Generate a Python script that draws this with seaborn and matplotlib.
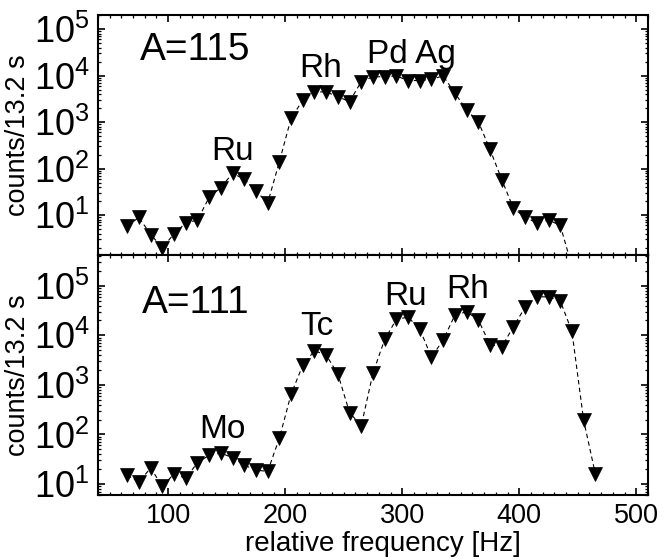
import matplotlib
matplotlib.use('Agg')
import matplotlib.pyplot as plt
import seaborn as sns
import pandas as pd
from matplotlib.ticker import LogLocator, MultipleLocator, NullFormatter, LogFormatterSciNotation

# A=115 scan
freq_115 = [65, 75, 85, 95, 105, 115, 125, 135, 145, 155, 165, 175, 185, 195,
            205, 215, 225, 235, 245, 255, 265, 275, 285, 295, 305, 315, 325, 335,
            345, 355, 365, 375, 385, 395, 405, 415, 425, 435, 445]
counts_115 = [5.8, 8.9, 3.8, 2.0, 3.9, 6.8, 7.8, 24, 39, 79, 59, 33, 18, 140,
              1200, 2960, 4450, 4450, 3500, 2750, 7400, 9400, 9400, 9800, 7800, 7800, 8300, 9800,
              4170, 1820, 1020, 257, 58, 14, 8.9, 6.8, 7.8, 6.0, 0.8]

# A=111 scan
freq_111 = [65, 75, 85, 95, 105, 115, 125, 135, 145, 155, 165, 175, 185, 195,
            205, 215, 225, 235, 245, 255, 265, 275, 285, 295, 305, 315, 325, 335,
            345, 355, 365, 375, 385, 395, 405, 415, 425, 435, 445, 455, 465]
counts_111 = [15, 11, 21, 9, 16, 13, 27, 38, 42, 34, 24, 19, 18, 84,
              650, 2500, 4900, 4000, 1660, 275, 150, 1740, 8300, 21000, 23400, 13300, 3640, 8100,
              25700, 30000, 20500, 6500, 5900, 15000, 37000, 60000, 60000, 50000, 12000, 195, 16]

# peak labels: (text, x, y baseline)
labels_115 = [('Ru', 155, 152), ('Rh', 230, 9300), ('Pd Ag', 308, 18600)]
labels_111 = [('Mo', 146, 84), ('Tc', 227, 10200), ('Ru', 303, 41500), ('Rh', 356, 56000)]

sns.set_style('ticks')
plt.rcParams['font.family'] = ['Liberation Sans', 'DejaVu Sans']
plt.rcParams['text.color'] = 'black'
plt.rcParams['axes.labelcolor'] = 'black'
plt.rcParams['xtick.color'] = 'black'
plt.rcParams['ytick.color'] = 'black'
plt.rcParams['axes.edgecolor'] = 'black'

fig = plt.figure(figsize=(6.67, 5.6), dpi=100)
ax1 = fig.add_axes([0.1469, 0.5446, 0.8246, 0.4286])
ax2 = fig.add_axes([0.1469, 0.1161, 0.8246, 0.4286])

panels = [
    (ax1, freq_115, counts_115, labels_115, 'A=115', (1.38, 2e5), 0.8125),
    (ax2, freq_111, counts_111, labels_111, 'A=111', (6, 4.2e5), 0.758),
]

for ax, fx, cy, labs, title, ylim, ty in panels:
    ax.set_yscale('log')
    df = pd.DataFrame({'freq': fx, 'counts': cy})
    sns.lineplot(data=df, x='freq', y='counts', ax=ax, color='black',
                 marker='v', markersize=9.5, markeredgecolor='black',
                 markeredgewidth=0.5, linestyle=(0, (4, 3)), linewidth=0.8)
    ax.set_xlim(40, 510)
    ax.set_ylim(*ylim)
    ax.xaxis.set_major_locator(MultipleLocator(100))
    ax.xaxis.set_minor_locator(MultipleLocator(10))
    ax.yaxis.set_major_locator(LogLocator(base=10, numticks=10))
    ax.yaxis.set_minor_locator(LogLocator(base=10, subs=range(2, 10), numticks=20))
    ax.yaxis.set_minor_formatter(NullFormatter())
    ax.yaxis.set_major_formatter(LogFormatterSciNotation())
    ax.tick_params(which='both', direction='in', top=True, right=True, color='black')
    ax.tick_params(which='major', length=5, width=1.2, labelsize=19.5, pad=5)
    ax.tick_params(which='minor', length=2.5, width=0.9)
    # y tick labels are tall and narrow in the original
    ax.tick_params(axis='y', labelsize=26, pad=6,
                   labelfontfamily=['Liberation Sans Narrow', 'Liberation Sans'])
    for s in ax.spines.values():
        s.set_linewidth(1.5)
        s.set_color('black')
    ax.set_ylabel('counts/13.2 s', fontsize=19.5)
    ax.yaxis.set_label_coords(-0.145, 0.5)
    ax.yaxis.label.set_verticalalignment('center')
    ax.text(0.177, ty, title, transform=ax.transAxes, ha='center', va='baseline', fontsize=28)
    for t, lx, ly in labs:
        ax.text(lx, ly, t, ha='center', va='baseline', fontsize=24)

ax1.set_xlabel('')
ax1.tick_params(labelbottom=False)
ax2.set_xlabel('relative frequency [Hz]', fontsize=20)
ax2.xaxis.set_label_coords(0.519, -0.15)
ax2.tick_params(axis='x', pad=6)

fig.savefig('out.png', dpi=100)
